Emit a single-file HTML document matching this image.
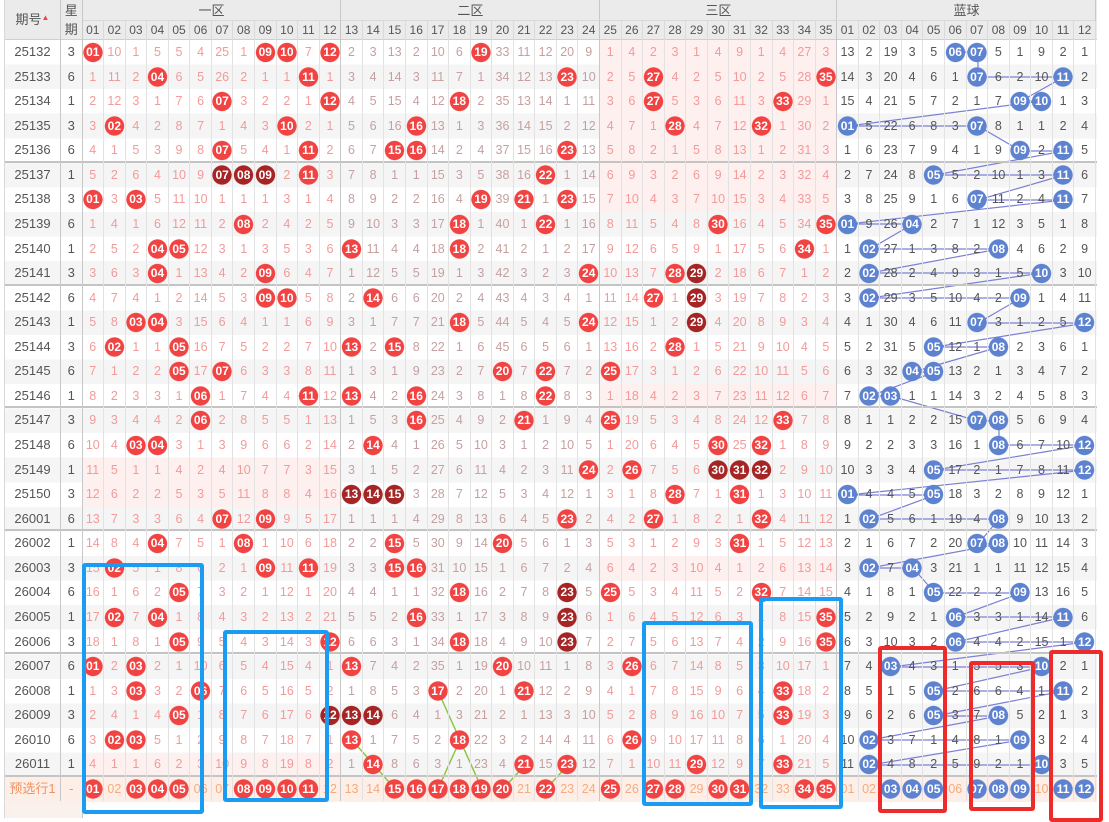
<!DOCTYPE html>
<html><head><meta charset="utf-8">
<style>
*{margin:0;padding:0;box-sizing:border-box}
body{width:1109px;height:817px;overflow:hidden;background:#fff;position:relative;font-family:"Liberation Sans","Noto Sans CJK SC",sans-serif}
.abs{position:absolute}
#hd{left:4px;top:0;width:1093px;height:40px;background:#ebebeb;border-bottom:1px solid #d0d0d0}
.zt{position:absolute;top:0;height:21px;line-height:21px;text-align:center;font-size:13px;color:#555;border-right:1px solid #c8c8c8;border-bottom:1px solid #d8d8d8}
#hn{position:absolute;left:82.5px;top:21px;display:flex;height:19px}
#hn c{width:21.57px;flex:none;text-align:center;font-size:12px;line-height:19px;color:#555;border-right:1px solid #dadada}
#hn c:nth-child(12),#hn c:nth-child(24),#hn c:nth-child(35){border-right-color:#c4c4c4}
#st{left:4px;top:40px;width:1093px;height:737px;background:repeating-linear-gradient(#fff 0 24.57px,#f5f5f5 24.57px 49.14px)}
.pk{position:absolute;background:#fff0f0}
#d{left:4px;top:40px;width:1093px}
.r{display:flex;height:24.57px;line-height:24.57px;font-size:12.5px}
.g{box-shadow:inset 0 -2px #c4c4c4}
.r c{width:21.57px;flex:none;text-align:center;border-right:1px solid #e2e2e2;white-space:nowrap}
.r c:nth-child(1){width:57px;color:#555;border-left:1px solid #d8d8d8;border-right-color:#c8c8c8;font-size:13px}
.r c:nth-child(2){width:21.5px;color:#555;border-right-color:#c8c8c8;font-size:13px}
.r c:nth-child(n+3){color:#f39a9a}
.r c:nth-child(n+15){color:#c6a0a0}
.r c:nth-child(n+27){color:#f39a9a}
.r c:nth-child(n+38){color:#555}
.r c:nth-child(14),.r c:nth-child(26),.r c:nth-child(37){border-right-color:#c8c8c8}
.r c[r],.r c[k],.r c[u]{color:#fff!important;font-weight:bold;font-size:12px}
.r c[r]{background:radial-gradient(circle,#f24343 9.3px,rgba(242,67,67,0) 10px)}
.r c[k]{background:radial-gradient(circle,#a52424 9.3px,rgba(165,36,36,0) 10px)}
.r c[u]{background:radial-gradient(circle,#5d82d0 9.3px,rgba(93,130,208,0) 10px)}
.pre c:nth-child(n+3){color:#f5ab7c}
.pre c:nth-child(1){color:#f0925e}
.pre c:nth-child(2){color:#f0925e}
.bx{position:absolute;border:4px solid #1a9cf2;border-radius:3px}
.rx{position:absolute;border:4px solid #ee2b2b;border-radius:3px}
</style></head><body>
<div id="hd" class="abs">
<div style="position:absolute;left:0;top:0;width:57px;height:40px;border-right:1px solid #c8c8c8;border-left:1px solid #d8d8d8;text-align:center;line-height:40px;font-size:13px;color:#555">期号<span style="font-size:8px;color:#e44;position:relative;top:-4px">▲</span></div>
<div style="position:absolute;left:57px;top:0;width:21.5px;height:40px;border-right:1px solid #c8c8c8;text-align:center;font-size:13px;color:#555;line-height:19px;padding-top:1px">星<br>期</div>
<div class="zt" style="left:78.5px;width:258.9px">一区</div>
<div class="zt" style="left:337.4px;width:258.9px">二区</div>
<div class="zt" style="left:596.3px;width:237.2px">三区</div>
<div class="zt" style="left:833.5px;width:258.9px">蓝球</div>
</div>
<div id="hn"><c>01</c><c>02</c><c>03</c><c>04</c><c>05</c><c>06</c><c>07</c><c>08</c><c>09</c><c>10</c><c>11</c><c>12</c><c>13</c><c>14</c><c>15</c><c>16</c><c>17</c><c>18</c><c>19</c><c>20</c><c>21</c><c>22</c><c>23</c><c>24</c><c>25</c><c>26</c><c>27</c><c>28</c><c>29</c><c>30</c><c>31</c><c>32</c><c>33</c><c>34</c><c>35</c><c>01</c><c>02</c><c>03</c><c>04</c><c>05</c><c>06</c><c>07</c><c>08</c><c>09</c><c>10</c><c>11</c><c>12</c></div>

<div id="st" class="abs"></div>
<div class="pk" style="left:600.4px;top:40px;width:237px;height:172px"></div>
<div class="pk" style="left:600.4px;top:384px;width:237px;height:24.6px"></div>
<div class="pk" style="left:600.4px;top:556px;width:237px;height:24.6px"></div>
<div class="pk" style="left:82.5px;top:457.7px;width:259px;height:49.1px"></div>
<div class="pk" style="left:82.5px;top:752.5px;width:259px;height:24.6px"></div>
<div class="abs" style="left:4px;top:777px;width:1093px;height:24.6px;background:#fdefe8"></div>
<div class="abs" style="left:4px;top:801.6px;width:78.5px;height:16px;background:#fbf1ec;border-left:1px solid #d8d8d8;border-right:1px solid #c8c8c8"></div>

<svg class="abs" style="left:0;top:0" width="1109" height="817">
<polyline fill="none" stroke="#7c80d2" stroke-width="1.2" points="956,52 978,52 978,77 1064,77 1021,101 1042,101 848,126 978,126 1021,151 1064,151 935,175 1064,175 978,200 1064,200 848,224 913,224 870,249 999,249 870,273 1042,273 870,298 1021,298 978,323 1086,323 935,347 999,347 913,372 935,372 870,396 891,396 978,421 999,421 999,445 1086,445 935,470 1086,470 848,495 935,495 870,519 999,519 978,544 999,544 870,568 913,568 935,593 1021,593 956,617 1064,617 956,642 1086,642 891,667 1042,667 935,691 1064,691 935,716 999,716 870,740 1021,740 870,765 1042,765"/>
<g fill="none" stroke="#8cc63f" stroke-width="1.5">
<polyline points="352,740 374,765 395,789"/>
<polyline points="438,691 460,740 482,789"/>
<polyline points="438,789 460,740"/>
<polyline points="525,765 503,789"/>
<polyline points="568,765 546,789"/>
</g>
</svg>

<div id="d" class="abs">
<div class="r"><c>25132</c><c>3</c><c r>01</c><c>10</c><c>1</c><c>5</c><c>5</c><c>4</c><c>25</c><c>1</c><c r>09</c><c r>10</c><c>7</c><c r>12</c><c>2</c><c>3</c><c>13</c><c>2</c><c>10</c><c>6</c><c r>19</c><c>33</c><c>11</c><c>12</c><c>20</c><c>9</c><c>1</c><c>4</c><c>2</c><c>3</c><c>1</c><c>4</c><c>9</c><c>1</c><c>4</c><c>27</c><c>3</c><c>13</c><c>2</c><c>19</c><c>3</c><c>5</c><c u>06</c><c u>07</c><c>5</c><c>1</c><c>9</c><c>2</c><c>1</c></div>
<div class="r"><c>25133</c><c>6</c><c>1</c><c>11</c><c>2</c><c r>04</c><c>6</c><c>5</c><c>26</c><c>2</c><c>1</c><c>1</c><c r>11</c><c>1</c><c>3</c><c>4</c><c>14</c><c>3</c><c>11</c><c>7</c><c>1</c><c>34</c><c>12</c><c>13</c><c r>23</c><c>10</c><c>2</c><c>5</c><c r>27</c><c>4</c><c>2</c><c>5</c><c>10</c><c>2</c><c>5</c><c>28</c><c r>35</c><c>14</c><c>3</c><c>20</c><c>4</c><c>6</c><c>1</c><c u>07</c><c>6</c><c>2</c><c>10</c><c u>11</c><c>2</c></div>
<div class="r"><c>25134</c><c>1</c><c>2</c><c>12</c><c>3</c><c>1</c><c>7</c><c>6</c><c r>07</c><c>3</c><c>2</c><c>2</c><c>1</c><c r>12</c><c>4</c><c>5</c><c>15</c><c>4</c><c>12</c><c r>18</c><c>2</c><c>35</c><c>13</c><c>14</c><c>1</c><c>11</c><c>3</c><c>6</c><c r>27</c><c>5</c><c>3</c><c>6</c><c>11</c><c>3</c><c r>33</c><c>29</c><c>1</c><c>15</c><c>4</c><c>21</c><c>5</c><c>7</c><c>2</c><c>1</c><c>7</c><c u>09</c><c u>10</c><c>1</c><c>3</c></div>
<div class="r"><c>25135</c><c>3</c><c>3</c><c r>02</c><c>4</c><c>2</c><c>8</c><c>7</c><c>1</c><c>4</c><c>3</c><c r>10</c><c>2</c><c>1</c><c>5</c><c>6</c><c>16</c><c r>16</c><c>13</c><c>1</c><c>3</c><c>36</c><c>14</c><c>15</c><c>2</c><c>12</c><c>4</c><c>7</c><c>1</c><c r>28</c><c>4</c><c>7</c><c>12</c><c r>32</c><c>1</c><c>30</c><c>2</c><c u>01</c><c>5</c><c>22</c><c>6</c><c>8</c><c>3</c><c u>07</c><c>8</c><c>1</c><c>1</c><c>2</c><c>4</c></div>
<div class="r g"><c>25136</c><c>6</c><c>4</c><c>1</c><c>5</c><c>3</c><c>9</c><c>8</c><c r>07</c><c>5</c><c>4</c><c>1</c><c r>11</c><c>2</c><c>6</c><c>7</c><c r>15</c><c r>16</c><c>14</c><c>2</c><c>4</c><c>37</c><c>15</c><c>16</c><c r>23</c><c>13</c><c>5</c><c>8</c><c>2</c><c>1</c><c>5</c><c>8</c><c>13</c><c>1</c><c>2</c><c>31</c><c>3</c><c>1</c><c>6</c><c>23</c><c>7</c><c>9</c><c>4</c><c>1</c><c>9</c><c u>09</c><c>2</c><c u>11</c><c>5</c></div>
<div class="r"><c>25137</c><c>1</c><c>5</c><c>2</c><c>6</c><c>4</c><c>10</c><c>9</c><c k>07</c><c k>08</c><c k>09</c><c>2</c><c r>11</c><c>3</c><c>7</c><c>8</c><c>1</c><c>1</c><c>15</c><c>3</c><c>5</c><c>38</c><c>16</c><c r>22</c><c>1</c><c>14</c><c>6</c><c>9</c><c>3</c><c>2</c><c>6</c><c>9</c><c>14</c><c>2</c><c>3</c><c>32</c><c>4</c><c>2</c><c>7</c><c>24</c><c>8</c><c u>05</c><c>5</c><c>2</c><c>10</c><c>1</c><c>3</c><c u>11</c><c>6</c></div>
<div class="r"><c>25138</c><c>3</c><c r>01</c><c>3</c><c r>03</c><c>5</c><c>11</c><c>10</c><c>1</c><c>1</c><c>1</c><c>3</c><c>1</c><c>4</c><c>8</c><c>9</c><c>2</c><c>2</c><c>16</c><c>4</c><c r>19</c><c>39</c><c r>21</c><c>1</c><c r>23</c><c>15</c><c>7</c><c>10</c><c>4</c><c>3</c><c>7</c><c>10</c><c>15</c><c>3</c><c>4</c><c>33</c><c>5</c><c>3</c><c>8</c><c>25</c><c>9</c><c>1</c><c>6</c><c u>07</c><c>11</c><c>2</c><c>4</c><c u>11</c><c>7</c></div>
<div class="r"><c>25139</c><c>6</c><c>1</c><c>4</c><c>1</c><c>6</c><c>12</c><c>11</c><c>2</c><c r>08</c><c>2</c><c>4</c><c>2</c><c>5</c><c>9</c><c>10</c><c>3</c><c>3</c><c>17</c><c r>18</c><c>1</c><c>40</c><c>1</c><c r>22</c><c>1</c><c>16</c><c>8</c><c>11</c><c>5</c><c>4</c><c>8</c><c r>30</c><c>16</c><c>4</c><c>5</c><c>34</c><c r>35</c><c u>01</c><c>9</c><c>26</c><c u>04</c><c>2</c><c>7</c><c>1</c><c>12</c><c>3</c><c>5</c><c>1</c><c>8</c></div>
<div class="r"><c>25140</c><c>1</c><c>2</c><c>5</c><c>2</c><c r>04</c><c r>05</c><c>12</c><c>3</c><c>1</c><c>3</c><c>5</c><c>3</c><c>6</c><c r>13</c><c>11</c><c>4</c><c>4</c><c>18</c><c r>18</c><c>2</c><c>41</c><c>2</c><c>1</c><c>2</c><c>17</c><c>9</c><c>12</c><c>6</c><c>5</c><c>9</c><c>1</c><c>17</c><c>5</c><c>6</c><c r>34</c><c>1</c><c>1</c><c u>02</c><c>27</c><c>1</c><c>3</c><c>8</c><c>2</c><c u>08</c><c>4</c><c>6</c><c>2</c><c>9</c></div>
<div class="r g"><c>25141</c><c>3</c><c>3</c><c>6</c><c>3</c><c r>04</c><c>1</c><c>13</c><c>4</c><c>2</c><c r>09</c><c>6</c><c>4</c><c>7</c><c>1</c><c>12</c><c>5</c><c>5</c><c>19</c><c>1</c><c>3</c><c>42</c><c>3</c><c>2</c><c>3</c><c r>24</c><c>10</c><c>13</c><c>7</c><c r>28</c><c k>29</c><c>2</c><c>18</c><c>6</c><c>7</c><c>1</c><c>2</c><c>2</c><c u>02</c><c>28</c><c>2</c><c>4</c><c>9</c><c>3</c><c>1</c><c>5</c><c u>10</c><c>3</c><c>10</c></div>
<div class="r"><c>25142</c><c>6</c><c>4</c><c>7</c><c>4</c><c>1</c><c>2</c><c>14</c><c>5</c><c>3</c><c r>09</c><c r>10</c><c>5</c><c>8</c><c>2</c><c r>14</c><c>6</c><c>6</c><c>20</c><c>2</c><c>4</c><c>43</c><c>4</c><c>3</c><c>4</c><c>1</c><c>11</c><c>14</c><c r>27</c><c>1</c><c k>29</c><c>3</c><c>19</c><c>7</c><c>8</c><c>2</c><c>3</c><c>3</c><c u>02</c><c>29</c><c>3</c><c>5</c><c>10</c><c>4</c><c>2</c><c u>09</c><c>1</c><c>4</c><c>11</c></div>
<div class="r"><c>25143</c><c>1</c><c>5</c><c>8</c><c r>03</c><c r>04</c><c>3</c><c>15</c><c>6</c><c>4</c><c>1</c><c>1</c><c>6</c><c>9</c><c>3</c><c>1</c><c>7</c><c>7</c><c>21</c><c r>18</c><c>5</c><c>44</c><c>5</c><c>4</c><c>5</c><c r>24</c><c>12</c><c>15</c><c>1</c><c>2</c><c k>29</c><c>4</c><c>20</c><c>8</c><c>9</c><c>3</c><c>4</c><c>4</c><c>1</c><c>30</c><c>4</c><c>6</c><c>11</c><c u>07</c><c>3</c><c>1</c><c>2</c><c>5</c><c u>12</c></div>
<div class="r"><c>25144</c><c>3</c><c>6</c><c r>02</c><c>1</c><c>1</c><c r>05</c><c>16</c><c>7</c><c>5</c><c>2</c><c>2</c><c>7</c><c>10</c><c r>13</c><c>2</c><c r>15</c><c>8</c><c>22</c><c>1</c><c>6</c><c>45</c><c>6</c><c>5</c><c>6</c><c>1</c><c>13</c><c>16</c><c>2</c><c r>28</c><c>1</c><c>5</c><c>21</c><c>9</c><c>10</c><c>4</c><c>5</c><c>5</c><c>2</c><c>31</c><c>5</c><c u>05</c><c>12</c><c>1</c><c u>08</c><c>2</c><c>3</c><c>6</c><c>1</c></div>
<div class="r"><c>25145</c><c>6</c><c>7</c><c>1</c><c>2</c><c>2</c><c r>05</c><c>17</c><c r>07</c><c>6</c><c>3</c><c>3</c><c>8</c><c>11</c><c>1</c><c>3</c><c>1</c><c>9</c><c>23</c><c>2</c><c>7</c><c r>20</c><c>7</c><c r>22</c><c>7</c><c>2</c><c r>25</c><c>17</c><c>3</c><c>1</c><c>2</c><c>6</c><c>22</c><c>10</c><c>11</c><c>5</c><c>6</c><c>6</c><c>3</c><c>32</c><c u>04</c><c u>05</c><c>13</c><c>2</c><c>1</c><c>3</c><c>4</c><c>7</c><c>2</c></div>
<div class="r g"><c>25146</c><c>1</c><c>8</c><c>2</c><c>3</c><c>3</c><c>1</c><c r>06</c><c>1</c><c>7</c><c>4</c><c>4</c><c r>11</c><c>12</c><c r>13</c><c>4</c><c>2</c><c r>16</c><c>24</c><c>3</c><c>8</c><c>1</c><c>8</c><c r>22</c><c>8</c><c>3</c><c>1</c><c>18</c><c>4</c><c>2</c><c>3</c><c>7</c><c>23</c><c>11</c><c>12</c><c>6</c><c>7</c><c>7</c><c u>02</c><c u>03</c><c>1</c><c>1</c><c>14</c><c>3</c><c>2</c><c>4</c><c>5</c><c>8</c><c>3</c></div>
<div class="r"><c>25147</c><c>3</c><c>9</c><c>3</c><c>4</c><c>4</c><c>2</c><c r>06</c><c>2</c><c>8</c><c>5</c><c>5</c><c>1</c><c>13</c><c>1</c><c>5</c><c>3</c><c r>16</c><c>25</c><c>4</c><c>9</c><c>2</c><c r>21</c><c>1</c><c>9</c><c>4</c><c r>25</c><c>19</c><c>5</c><c>3</c><c>4</c><c>8</c><c>24</c><c>12</c><c r>33</c><c>7</c><c>8</c><c>8</c><c>1</c><c>1</c><c>2</c><c>2</c><c>15</c><c u>07</c><c u>08</c><c>5</c><c>6</c><c>9</c><c>4</c></div>
<div class="r"><c>25148</c><c>6</c><c>10</c><c>4</c><c r>03</c><c r>04</c><c>3</c><c>1</c><c>3</c><c>9</c><c>6</c><c>6</c><c>2</c><c>14</c><c>2</c><c r>14</c><c>4</c><c>1</c><c>26</c><c>5</c><c>10</c><c>3</c><c>1</c><c>2</c><c>10</c><c>5</c><c>1</c><c>20</c><c>6</c><c>4</c><c>5</c><c r>30</c><c>25</c><c r>32</c><c>1</c><c>8</c><c>9</c><c>9</c><c>2</c><c>2</c><c>3</c><c>3</c><c>16</c><c>1</c><c u>08</c><c>6</c><c>7</c><c>10</c><c u>12</c></div>
<div class="r"><c>25149</c><c>1</c><c>11</c><c>5</c><c>1</c><c>1</c><c>4</c><c>2</c><c>4</c><c>10</c><c>7</c><c>7</c><c>3</c><c>15</c><c>3</c><c>1</c><c>5</c><c>2</c><c>27</c><c>6</c><c>11</c><c>4</c><c>2</c><c>3</c><c>11</c><c r>24</c><c>2</c><c r>26</c><c>7</c><c>5</c><c>6</c><c k>30</c><c k>31</c><c k>32</c><c>2</c><c>9</c><c>10</c><c>10</c><c>3</c><c>3</c><c>4</c><c u>05</c><c>17</c><c>2</c><c>1</c><c>7</c><c>8</c><c>11</c><c u>12</c></div>
<div class="r"><c>25150</c><c>3</c><c>12</c><c>6</c><c>2</c><c>2</c><c>5</c><c>3</c><c>5</c><c>11</c><c>8</c><c>8</c><c>4</c><c>16</c><c k>13</c><c k>14</c><c k>15</c><c>3</c><c>28</c><c>7</c><c>12</c><c>5</c><c>3</c><c>4</c><c>12</c><c>1</c><c>3</c><c>1</c><c>8</c><c r>28</c><c>7</c><c>1</c><c r>31</c><c>1</c><c>3</c><c>10</c><c>11</c><c u>01</c><c>4</c><c>4</c><c>5</c><c u>05</c><c>18</c><c>3</c><c>2</c><c>8</c><c>9</c><c>12</c><c>1</c></div>
<div class="r g"><c>26001</c><c>6</c><c>13</c><c>7</c><c>3</c><c>3</c><c>6</c><c>4</c><c r>07</c><c>12</c><c r>09</c><c>9</c><c>5</c><c>17</c><c>1</c><c>1</c><c>1</c><c>4</c><c>29</c><c>8</c><c>13</c><c>6</c><c>4</c><c>5</c><c r>23</c><c>2</c><c>4</c><c>2</c><c r>27</c><c>1</c><c>8</c><c>2</c><c>1</c><c r>32</c><c>4</c><c>11</c><c>12</c><c>1</c><c u>02</c><c>5</c><c>6</c><c>1</c><c>19</c><c>4</c><c u>08</c><c>9</c><c>10</c><c>13</c><c>2</c></div>
<div class="r"><c>26002</c><c>1</c><c>14</c><c>8</c><c>4</c><c r>04</c><c>7</c><c>5</c><c>1</c><c r>08</c><c>1</c><c>10</c><c>6</c><c>18</c><c>2</c><c>2</c><c r>15</c><c>5</c><c>30</c><c>9</c><c>14</c><c r>20</c><c>5</c><c>6</c><c>1</c><c>3</c><c>5</c><c>3</c><c>1</c><c>2</c><c>9</c><c>3</c><c r>31</c><c>1</c><c>5</c><c>12</c><c>13</c><c>2</c><c>1</c><c>6</c><c>7</c><c>2</c><c>20</c><c u>07</c><c u>08</c><c>10</c><c>11</c><c>14</c><c>3</c></div>
<div class="r"><c>26003</c><c>3</c><c>15</c><c r>02</c><c>5</c><c>1</c><c>8</c><c>6</c><c>2</c><c>1</c><c r>09</c><c>11</c><c r>11</c><c>19</c><c>3</c><c>3</c><c r>15</c><c r>16</c><c>31</c><c>10</c><c>15</c><c>1</c><c>6</c><c>7</c><c>2</c><c>4</c><c>6</c><c>4</c><c>2</c><c>3</c><c>10</c><c>4</c><c>1</c><c>2</c><c>6</c><c>13</c><c>14</c><c>3</c><c u>02</c><c>7</c><c u>04</c><c>3</c><c>21</c><c>1</c><c>1</c><c>11</c><c>12</c><c>15</c><c>4</c></div>
<div class="r"><c>26004</c><c>6</c><c>16</c><c>1</c><c>6</c><c>2</c><c r>05</c><c>7</c><c>3</c><c>2</c><c>1</c><c>12</c><c>1</c><c>20</c><c>4</c><c>4</c><c>1</c><c>1</c><c>32</c><c r>18</c><c>16</c><c>2</c><c>7</c><c>8</c><c k>23</c><c>5</c><c r>25</c><c>5</c><c>3</c><c>4</c><c>11</c><c>5</c><c>2</c><c r>32</c><c>7</c><c>14</c><c>15</c><c>4</c><c>1</c><c>8</c><c>1</c><c u>05</c><c>22</c><c>2</c><c>2</c><c u>09</c><c>13</c><c>16</c><c>5</c></div>
<div class="r"><c>26005</c><c>1</c><c>17</c><c r>02</c><c>7</c><c r>04</c><c>1</c><c>8</c><c>4</c><c>3</c><c>2</c><c>13</c><c>2</c><c>21</c><c>5</c><c>5</c><c>2</c><c r>16</c><c>33</c><c>1</c><c>17</c><c>3</c><c>8</c><c>9</c><c k>23</c><c>6</c><c>1</c><c>6</c><c>4</c><c>5</c><c>12</c><c>6</c><c>3</c><c>1</c><c>8</c><c>15</c><c r>35</c><c>5</c><c>2</c><c>9</c><c>2</c><c>1</c><c u>06</c><c>3</c><c>3</c><c>1</c><c>14</c><c u>11</c><c>6</c></div>
<div class="r g"><c>26006</c><c>3</c><c>18</c><c>1</c><c>8</c><c>1</c><c r>05</c><c>9</c><c>5</c><c>4</c><c>3</c><c>14</c><c>3</c><c r>12</c><c>6</c><c>6</c><c>3</c><c>1</c><c>34</c><c r>18</c><c>18</c><c>4</c><c>9</c><c>10</c><c k>23</c><c>7</c><c>2</c><c>7</c><c>5</c><c>6</c><c>13</c><c>7</c><c>4</c><c>2</c><c>9</c><c>16</c><c r>35</c><c>6</c><c>3</c><c>10</c><c>3</c><c>2</c><c u>06</c><c>4</c><c>4</c><c>2</c><c>15</c><c>1</c><c u>12</c></div>
<div class="r"><c>26007</c><c>6</c><c r>01</c><c>2</c><c r>03</c><c>2</c><c>1</c><c>10</c><c>6</c><c>5</c><c>4</c><c>15</c><c>4</c><c>1</c><c r>13</c><c>7</c><c>4</c><c>2</c><c>35</c><c>1</c><c>19</c><c r>20</c><c>10</c><c>11</c><c>1</c><c>8</c><c>3</c><c r>26</c><c>6</c><c>7</c><c>14</c><c>8</c><c>5</c><c>3</c><c>10</c><c>17</c><c>1</c><c>7</c><c>4</c><c u>03</c><c>4</c><c>3</c><c>1</c><c>5</c><c>5</c><c>3</c><c u>10</c><c>2</c><c>1</c></div>
<div class="r"><c>26008</c><c>1</c><c>1</c><c>3</c><c r>03</c><c>3</c><c>2</c><c r>06</c><c>7</c><c>6</c><c>5</c><c>16</c><c>5</c><c>2</c><c>1</c><c>8</c><c>5</c><c>3</c><c r>17</c><c>2</c><c>20</c><c>1</c><c r>21</c><c>12</c><c>2</c><c>9</c><c>4</c><c>1</c><c>7</c><c>8</c><c>15</c><c>9</c><c>6</c><c>4</c><c r>33</c><c>18</c><c>2</c><c>8</c><c>5</c><c>1</c><c>5</c><c u>05</c><c>2</c><c>6</c><c>6</c><c>4</c><c>1</c><c u>11</c><c>2</c></div>
<div class="r"><c>26009</c><c>3</c><c>2</c><c>4</c><c>1</c><c>4</c><c r>05</c><c>1</c><c>8</c><c>7</c><c>6</c><c>17</c><c>6</c><c k>12</c><c k>13</c><c k>14</c><c>6</c><c>4</c><c>1</c><c>3</c><c>21</c><c>2</c><c>1</c><c>13</c><c>3</c><c>10</c><c>5</c><c>2</c><c>8</c><c>9</c><c>16</c><c>10</c><c>7</c><c>5</c><c r>33</c><c>19</c><c>3</c><c>9</c><c>6</c><c>2</c><c>6</c><c u>05</c><c>3</c><c>7</c><c u>08</c><c>5</c><c>2</c><c>1</c><c>3</c></div>
<div class="r"><c>26010</c><c>6</c><c>3</c><c r>02</c><c r>03</c><c>5</c><c>1</c><c>2</c><c>9</c><c>8</c><c>7</c><c>18</c><c>7</c><c>1</c><c r>13</c><c>1</c><c>7</c><c>5</c><c>2</c><c r>18</c><c>22</c><c>3</c><c>2</c><c>14</c><c>4</c><c>11</c><c>6</c><c r>26</c><c>9</c><c>10</c><c>17</c><c>11</c><c>8</c><c>6</c><c>1</c><c>20</c><c>4</c><c>10</c><c u>02</c><c>3</c><c>7</c><c>1</c><c>4</c><c>8</c><c>1</c><c u>09</c><c>3</c><c>2</c><c>4</c></div>
<div class="r g"><c>26011</c><c>1</c><c>4</c><c>1</c><c>1</c><c>6</c><c>2</c><c>3</c><c>10</c><c>9</c><c>8</c><c>19</c><c>8</c><c>2</c><c>1</c><c r>14</c><c>8</c><c>6</c><c>3</c><c>1</c><c>23</c><c>4</c><c r>21</c><c>15</c><c r>23</c><c>12</c><c>7</c><c>1</c><c>10</c><c>11</c><c r>29</c><c>12</c><c>9</c><c>7</c><c r>33</c><c>21</c><c>5</c><c>11</c><c u>02</c><c>4</c><c>8</c><c>2</c><c>5</c><c>9</c><c>2</c><c>1</c><c u>10</c><c>3</c><c>5</c></div>
<div class="r pre"><c>预选行1</c><c>-</c><c r>01</c><c>02</c><c r>03</c><c r>04</c><c r>05</c><c>06</c><c>07</c><c r>08</c><c r>09</c><c r>10</c><c r>11</c><c>12</c><c>13</c><c>14</c><c r>15</c><c r>16</c><c r>17</c><c r>18</c><c r>19</c><c r>20</c><c>21</c><c r>22</c><c>23</c><c>24</c><c r>25</c><c>26</c><c r>27</c><c r>28</c><c>29</c><c r>30</c><c r>31</c><c>32</c><c>33</c><c r>34</c><c r>35</c><c>01</c><c>02</c><c u>03</c><c u>04</c><c u>05</c><c>06</c><c u>07</c><c u>08</c><c u>09</c><c>10</c><c u>11</c><c u>12</c></div>
</div>

<div class="bx" style="left:82px;top:563px;width:122px;height:251px"></div>
<div class="bx" style="left:223px;top:630px;width:106px;height:172px"></div>
<div class="bx" style="left:642px;top:621px;width:111px;height:185px"></div>
<div class="bx" style="left:759px;top:597px;width:84px;height:212px"></div>
<div class="rx" style="left:878px;top:646px;width:69px;height:167px"></div>
<div class="rx" style="left:969px;top:661px;width:66px;height:150px"></div>
<div class="rx" style="left:1049px;top:650px;width:54px;height:172px"></div>
</body></html>
